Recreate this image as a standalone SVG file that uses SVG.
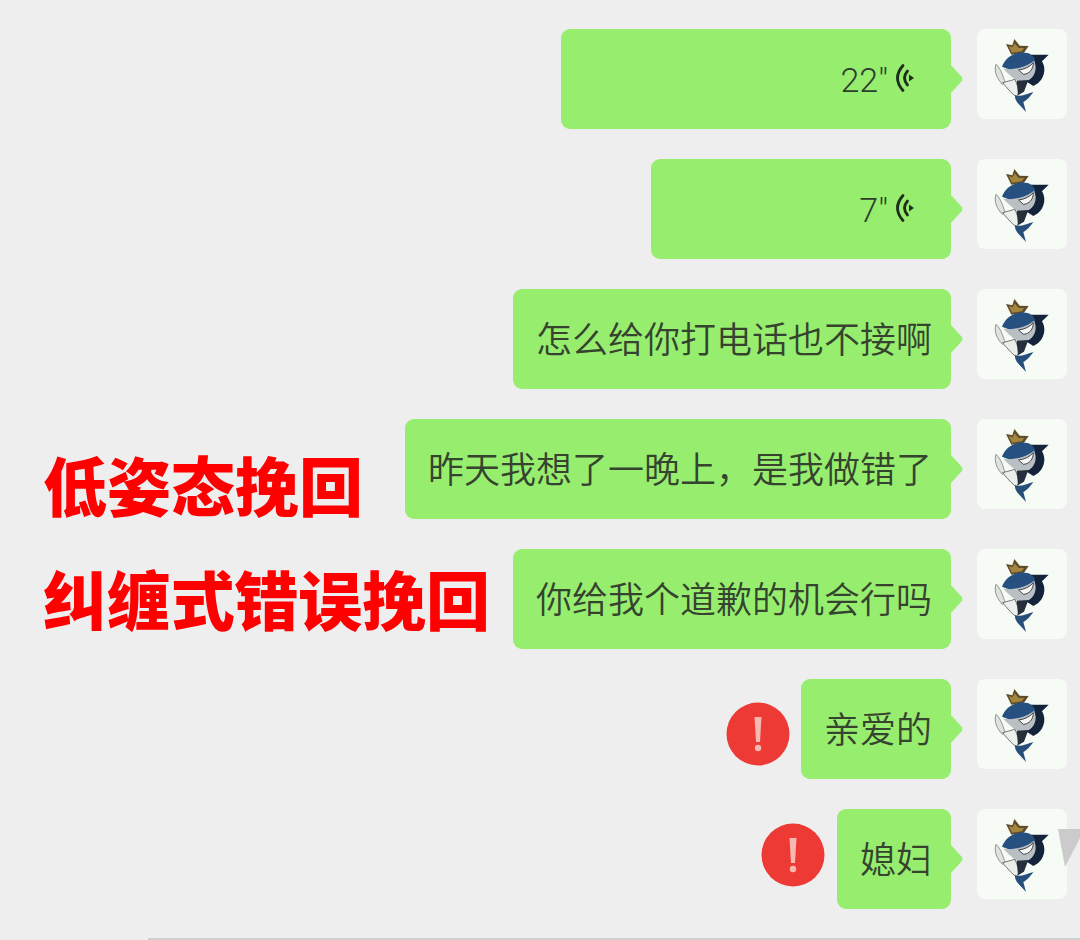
<svg xmlns="http://www.w3.org/2000/svg" xmlns:xlink="http://www.w3.org/1999/xlink" width="1080" height="940" viewBox="0 0 1080 940">
<style>
.bubble{fill:#97ee6e}
.msg{font-family:"Noto Sans CJK SC","Noto Sans",sans-serif;font-size:36px;font-weight:350;fill:#35432f;text-anchor:end}
.dur{font-family:Roboto,"Liberation Sans",sans-serif;font-size:34px;font-weight:300;fill:#2f3d2c;text-anchor:end}
.title{font-family:"Noto Sans CJK SC",sans-serif;font-size:64px;font-weight:900;fill:#ff0000}
.av{fill:#f6fbf6}
.wave{fill:none;stroke:#1f2d1c;stroke-width:2.8;stroke-linecap:round}
.excl{fill:#f6b9b1}
.err{fill:#ee3a35}
</style>
<defs>
<g id="tail"><path class="bubble" d="M951 -14 L961 -3 Q964 0 961 3 L951 14 Z"/></g>
<g id="voice">
<path class="wave" d="M903 -12.500 Q892 0 903 12.500"/>
<path class="wave" d="M907.500 -7 Q901.500 0 907.500 7"/>
<path d="M909 -3.500 L914 0 L909 3.500 Z" fill="#1f2d1c"/>
</g>
<g id="avatar">
<rect class="av" x="0" y="0" width="90" height="90" rx="8"/>
<g transform="scale(.3333) translate(-471,-27)">
<path d="M558 72 L577 76 L583 57 L599 77 L626 78 L612 98 L574 104 Z" fill="#5f4c28"/>
<path d="M566 78 L578 82 L584 70 L596 84 L612 84 L606 94 L576 98 Z" fill="#a3853f"/>
<path d="M625 104 L686 104 L666 124 C682 150 670 186 640 198 L606 176 Z" fill="#14233a"/>
<path d="M546 140 C556 110 590 90 626 100 C652 112 652 136 625 146 L572 150 Z" fill="#25507f"/>
<path d="M550 146 C585 152 622 138 642 122 C656 150 640 188 598 186 C580 178 564 160 550 146 Z" fill="#b9bfc3"/>
<path d="M596 150 C614 148 630 140 640 128 C640 148 628 162 610 163 Z" fill="#f6f7f5" stroke="#2a2a2a" stroke-width="2.500"/>
<path d="M528 133 C545 148 549 172 556 188 L547 193 C531 176 521 155 528 133 Z" fill="#dfe3de" stroke="#666" stroke-width="2"/>
<path d="M548 188 L585 178 L598 212 L590 232 L572 216 L556 198 Z" fill="#eceeeb" stroke="#3a3a3a" stroke-width="2"/>
<path d="M590 182 L625 180 L612 215 L594 226 Z" fill="#26303c"/>
<path d="M585 225 C600 232 618 222 640 216 C628 232 622 240 610 246 L618 276 L596 252 C588 244 584 235 585 225 Z" fill="#274f7a"/>
</g>
</g>
</defs>
<rect id="background" width="1080" height="940" fill="#eeeeef"/>
<rect id="bottom-line" x="148" y="938" width="932" height="2" fill="#cfcfcf"/>

<g id="row1">
<rect class="bubble" x="561" y="29" width="390" height="100" rx="9"/>
<use xlink:href="#tail" href="#tail" y="79"/>
<text class="dur" x="888" y="92">22"</text>
<use xlink:href="#voice" href="#voice" y="78"/>
<use xlink:href="#avatar" href="#avatar" x="977" y="29"/>
</g>
<g id="row2">
<rect class="bubble" x="651" y="159" width="300" height="100" rx="9"/>
<use xlink:href="#tail" href="#tail" y="209"/>
<text class="dur" x="888" y="222">7"</text>
<use xlink:href="#voice" href="#voice" y="208"/>
<use xlink:href="#avatar" href="#avatar" x="977" y="159"/>
</g>
<g id="row3">
<rect class="bubble" x="513" y="289" width="438" height="100" rx="9"/>
<use xlink:href="#tail" href="#tail" y="339"/>
<text class="msg" x="932" y="353">怎么给你打电话也不接啊</text>
<use xlink:href="#avatar" href="#avatar" x="977" y="289"/>
</g>
<g id="row4">
<rect class="bubble" x="405" y="419" width="546" height="100" rx="9"/>
<use xlink:href="#tail" href="#tail" y="469"/>
<text class="msg" x="932" y="483">昨天我想了一晚上，是我做错了</text>
<use xlink:href="#avatar" href="#avatar" x="977" y="419"/>
</g>
<g id="row5">
<rect class="bubble" x="513" y="549" width="438" height="100" rx="9"/>
<use xlink:href="#tail" href="#tail" y="599"/>
<text class="msg" x="932" y="613">你给我个道歉的机会行吗</text>
<use xlink:href="#avatar" href="#avatar" x="977" y="549"/>
</g>
<g id="row6">
<circle class="err" cx="758" cy="734" r="31.500"/>
<path class="excl" d="M754.500 717 L761.500 717 L760 742 L756 742 Z"/><circle class="excl" cx="758" cy="748" r="3.200"/>
<rect class="bubble" x="801" y="679" width="150" height="100" rx="9"/>
<use xlink:href="#tail" href="#tail" y="729"/>
<text class="msg" x="932" y="743">亲爱的</text>
<use xlink:href="#avatar" href="#avatar" x="977" y="679"/>
</g>
<g id="row7">
<circle class="err" cx="793" cy="855" r="31.500"/>
<path class="excl" d="M789.500 838 L796.500 838 L795 863 L791 863 Z"/><circle class="excl" cx="793" cy="869" r="3.200"/>
<rect class="bubble" x="837" y="809" width="114" height="100" rx="9"/>
<use xlink:href="#tail" href="#tail" y="859"/>
<text class="msg" x="932" y="873">媳妇</text>
<use xlink:href="#avatar" href="#avatar" x="977" y="809"/>
</g>
<polygon id="corner-mark" points="1058,829 1080,829 1080,838 1065,867" fill="#cbcbcb"/>
<g id="captions">
<text class="title" x="43" y="511" textLength="320" lengthAdjust="spacing">低姿态挽回</text>
<text class="title" x="43" y="625" textLength="447" lengthAdjust="spacing">纠缠式错误挽回</text>
</g>
</svg>
